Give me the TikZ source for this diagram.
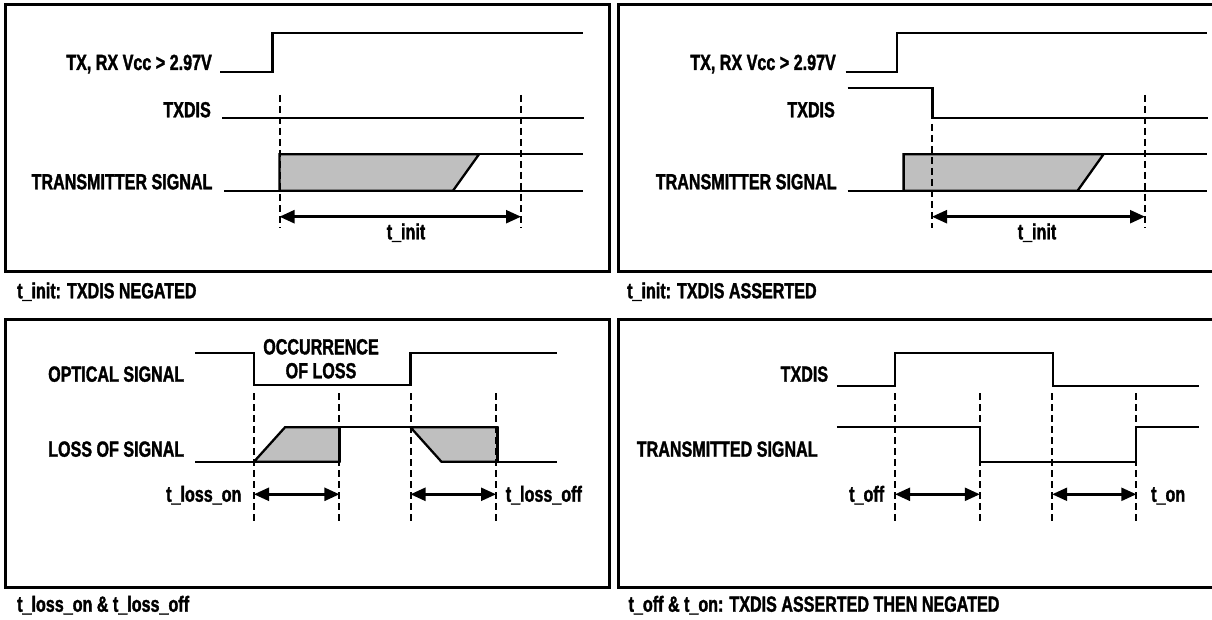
\documentclass[tikz,border=0pt]{standalone}
\usepackage{fontspec}
\newfontfamily\diagfont{Liberation Sans}[UprightFont={* Bold}, FakeStretch=0.735, FakeBold=1.5]
\usetikzlibrary{arrows.meta}

\begin{document}
\begin{tikzpicture}[x=1bp, y=-1bp,
  box/.style={line width=3bp},
  sig/.style={line width=2.3bp},
  edge/.style={line width=3.2bp},
  tick/.style={line width=2bp, dash pattern=on 7bp off 4bp},
  span/.style={line width=2.4bp, {Triangle[length=15bp,width=13bp]}-{Triangle[length=15bp,width=13bp]}},
  lbl/.style={inner sep=0pt, font=\diagfont\fontsize{22}{24}\selectfont},
  shade/.style={fill=black!25}]
\useasboundingbox (0,0) rectangle (1212,620);

% t_init, TXDIS negated
\draw[box] (5,5) rectangle (609,272);
\draw[sig] (220,71.7) -- (272.5,71.7) -- (272.5,32.7) -- (583,32.7);
\draw[sig] (222,118.3) -- (584,118.3);
\filldraw[shade, sig] (279.5,190.7) -- (279.5,154.3) -- (479,154.3) -- (453,190.7) -- cycle;
\draw[sig] (224,190.7) -- (583,190.7);
\draw[sig] (479,154.3) -- (583,154.3);
\draw[tick] (279.5,95) -- (279.5,228);
\draw[tick] (521,95) -- (521,228);
\coordinate (a1) at (279.5,216.7);
\coordinate (b1) at (521,216.7);
\draw[span] (a1) -- (b1);
\node[lbl, anchor=base east] (tx1) at (212,70) {TX, RX Vcc > 2.97V};
\node[lbl, anchor=base east] (dis1) at (211,117.3) {TXDIS};
\node[lbl, anchor=base east] (ts1) at (212.6,189.3) {TRANSMITTER SIGNAL};
\node[lbl, anchor=base] (init1) at (406,239.3) {t\_init};
\node[lbl, anchor=base west] (cap1) at (17,298.3) {t\_init: TXDIS NEGATED};

% t_init, TXDIS asserted
\draw[box] (1214,5) -- (618,5) -- (618,272) -- (1214,272);
\draw[sig] (845.7,71.7) -- (896.7,71.7) -- (896.7,32.7) -- (1206.7,32.7);
\draw[sig] (847.6,88.3) -- (932.6,88.3) -- (932.6,118.3) -- (1208,118.3);
\filldraw[shade, sig] (903.6,190.7) -- (903.6,154.3) -- (1103.5,154.3) -- (1077.6,190.7) -- cycle;
\draw[sig] (847.6,190.7) -- (1207,190.7);
\draw[sig] (1103.5,154.3) -- (1207,154.3);
\draw[tick] (932,124) -- (932,228);
\draw[tick] (1145,95) -- (1145,228);
\coordinate (a2) at (932,216.7);
\coordinate (b2) at (1145,216.7);
\draw[span] (a2) -- (b2);
\node[lbl, anchor=base east] (tx2) at (836,70) {TX, RX Vcc > 2.97V};
\node[lbl, anchor=base east] (dis2) at (835,117.3) {TXDIS};
\node[lbl, anchor=base east] (ts2) at (836.8,189.3) {TRANSMITTER SIGNAL};
\node[lbl, anchor=base] (init2) at (1037,239.3) {t\_init};
\node[lbl, anchor=base west] (cap2) at (627,298.3) {t\_init: TXDIS ASSERTED};

% t_loss_on and t_loss_off
\draw[box] (5,319) rectangle (609,587);
\draw[sig] (195,353.3) -- (254,353.3) -- (254,385) -- (410.5,385) -- (410.5,353.3) -- (557.4,353.3);
\filldraw[shade, sig] (254,461.7) -- (285,427.3) -- (339.4,427.3) -- (339.4,461.7) -- cycle;
\filldraw[shade, sig] (410.5,427.3) -- (497.5,427.3) -- (497.5,461.7) -- (441.4,461.7) -- cycle;
\draw[sig] (195,461.7) -- (254,461.7);
\draw[sig] (339.4,427.3) -- (410.5,427.3);
\draw[sig] (497.5,461.7) -- (557.4,461.7);
\draw[edge] (339.4,427.3) -- (339.4,461.7);
\draw[edge] (497.5,427.3) -- (497.5,461.7);
\draw[tick] (254,393.3) -- (254,525);
\draw[tick] (339.4,393.3) -- (339.4,525);
\draw[tick] (410.5,393.3) -- (410.5,525);
\draw[tick] (496,393.3) -- (496,525);
\coordinate (a3) at (254,494.3);
\coordinate (b3) at (339.4,494.3);
\coordinate (c3) at (410.5,494.3);
\coordinate (d3) at (496,494.3);
\draw[span] (a3) -- (b3);
\draw[span] (c3) -- (d3);
\node[lbl, anchor=base west] (opt3) at (48,381.7) {OPTICAL SIGNAL};
\node[lbl, align=center] (occ3) at (321,358.8) {OCCURRENCE\\OF LOSS};
\node[lbl, anchor=base west] (los3) at (48,456.7) {LOSS OF SIGNAL};
\node[lbl, anchor=base east] (on3) at (241.6,501.7) {t\_loss\_on};
\node[lbl, anchor=base west] (off3) at (505.6,501.7) {t\_loss\_off};
\node[lbl, anchor=base west] (cap3) at (17,611.7) {t\_loss\_on \& t\_loss\_off};

% t_off and t_on
\draw[box] (1214,319) -- (618,319) -- (618,587) -- (1214,587);
\draw[sig] (836.8,385.7) -- (895.1,385.7) -- (895.1,353.3) -- (1053.2,353.3) -- (1053.2,385.7) -- (1198.6,385.7);
\draw[sig] (836.8,427.3) -- (979.8,427.3) -- (979.8,461.7) -- (1136.3,461.7) -- (1136.3,427.3) -- (1198.6,427.3);
\draw[tick] (895.1,393.3) -- (895.1,525);
\draw[tick] (979.8,393.3) -- (979.8,525);
\draw[tick] (1052.2,393.3) -- (1052.2,525);
\draw[tick] (1136.3,393.3) -- (1136.3,525);
\coordinate (a4) at (895.1,494.3);
\coordinate (b4) at (979.8,494.3);
\coordinate (c4) at (1052.2,494.3);
\coordinate (d4) at (1136.3,494.3);
\draw[span] (a4) -- (b4);
\draw[span] (c4) -- (d4);
\node[lbl, anchor=base east] (dis4) at (828.3,381.7) {TXDIS};
\node[lbl, anchor=base east] (ts4) at (817.8,456.7) {TRANSMITTED SIGNAL};
\node[lbl, anchor=base east] (off4) at (884.3,501.7) {t\_off};
\node[lbl, anchor=base west] (on4) at (1151,501.7) {t\_on};
\node[lbl, anchor=base west] (cap4) at (628.4,611.7) {t\_off \& t\_on: TXDIS ASSERTED THEN NEGATED};
\end{tikzpicture}
\end{document}
